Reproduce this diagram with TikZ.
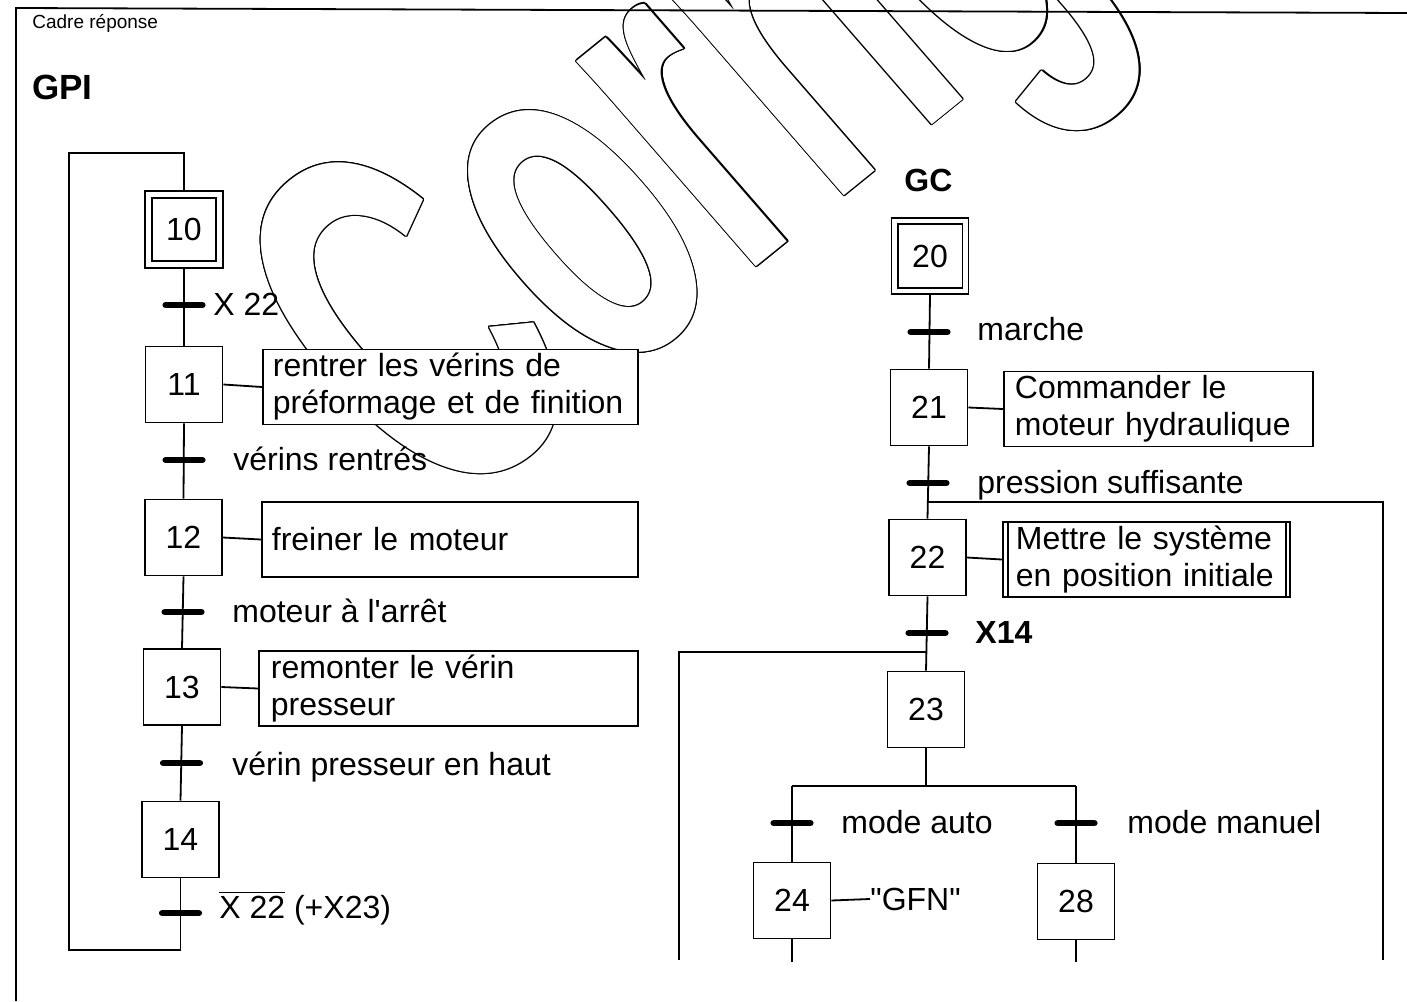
\documentclass[tikz,border=0pt]{standalone}
\usepackage{fontspec}
\setmainfont{Liberation Sans}
\usetikzlibrary{calc}
\begin{document}
\begin{tikzpicture}[x=0.5pt,y=-0.5pt,
  every node/.style={font=\fontsize{16pt}{18.5pt}\selectfont},
  link/.style={line width=0.9pt},
  stepbox/.style={draw, line width=0.9pt, rectangle, minimum width=38.5pt, minimum height=38pt, inner sep=0pt, fill=white},
  actbox/.style={draw, line width=0.9pt, rectangle, fill=white, align=left, inner xsep=5pt, inner ysep=0pt, minimum height=37.5pt, anchor=west},
  tbar/.style={fill=black, rectangle, rounded corners=1.3pt, minimum width=21.5pt, minimum height=2.8pt, inner sep=0pt},
  lbl/.style={anchor=base west, inner sep=0pt},
  wmtext/.style={transform shape, anchor=base west, inner sep=0pt, font=\fontsize{10pt}{12pt}\selectfont\bfseries},
  wmmap/.style={cm={11.27,9.12,-16.93,19.48,(0,0)}},
]
\useasboundingbox (0,0) rectangle (1407,1001);
\fill[white] (0,0) rectangle (1407,1001);

% watermark (outlined text)
\begin{scope}
\clip (0,0) rectangle (1407,1001);
\foreach \a in {0,30,...,330}{
  \begin{scope}[shift={(436,526)}, shift={(\a:1.25)}, wmmap]
    \node[wmtext, text=black] (wm\a) at (0,0) {Corrigé};
  \end{scope}
}
\begin{scope}[shift={(436,526)}, wmmap]
  \node[wmtext, text=white] (wm) at (0,0) {Corrigé};
\end{scope}
\end{scope}

% frame
\draw[link] (16,1001) -- (16,8) -- (1407,13);
\node[lbl, font=\fontsize{9.5pt}{11pt}\selectfont] (cadre) at (32,28) {Cadre réponse};
\node[lbl, font=\fontsize{17.5pt}{20pt}\selectfont\bfseries] (gpi) at (32,99) {GPI};
\node[lbl, font=\fontsize{16pt}{19pt}\selectfont\bfseries] (gc) at (904,191) {GC};

% ---------- GPI ----------
\node[stepbox, minimum width=39pt, minimum height=38.5pt] (s10) at (184,229.5) {10};
\draw[link] ($(s10.north west)+(8,8)$) rectangle ($(s10.south east)+(-8,-8)$);
\node[stepbox] (s11) at (184,384.5) {11};
\node[stepbox] (s12) at (183.5,537.5) {12};
\node[stepbox] (s13) at (182,687) {13};
\node[stepbox] (s14) at (180.5,839.5) {14};

\node[actbox, text width=177.5pt] (a11) at (262,387) {rentrer les vérins de\\préformage et de finition};
\node[actbox, text width=178pt] (a12) at (261,539.5) {freiner le moteur};
\node[actbox, text width=177.5pt, inner xsep=6pt] (a13) at (258,688.5) {remonter le vérin\\presseur};

\draw[link] (s10.south) -- (s11.north);
\draw[link] (s11.south) -- (s12.north);
\draw[link] (s12.south) -- (s13.north);
\draw[link] (s13.south) -- (s14.north);
\coordinate (lp2) at (69,950);
\coordinate (lp4) at (184,153);
\draw[link] (s14.south) |- (lp2) |- (lp4) -- (s10.north);
\draw[link] (s11.east) -- (a11.west);
\draw[link] (s12.east) -- (a12.west);
\draw[link] (s13.east) -- (a13.west);

\node[tbar] (t1) at (184,305) {};
\node[tbar] (t2) at (184,460) {};
\node[tbar] (t3) at (183,612) {};
\node[tbar] (t4) at (181.5,763) {};
\node[tbar] (t5) at (180.5,913) {};

\node[lbl] (l1) at (213,315) {X 22};
\node[lbl] (l2) at (233,470) {vérins rentrés};
\node[lbl] (l3) at (232,622) {moteur à l\textquotesingle arrêt};
\node[lbl] (l4) at (232,775) {vérin presseur en haut};
\node[lbl] (l5) at (219,918) {$\overline{\mbox{X 22}}$ (+X23)};

% ---------- GC ----------
\node[stepbox] (s20) at (930,256) {20};
\draw[link] ($(s20.north west)+(7,7)$) rectangle ($(s20.south east)+(-7,-7)$);
\node[stepbox] (s21) at (929,407.5) {21};
\node[stepbox] (s22) at (927.5,557.5) {22};
\node[stepbox] (s23) at (926,709.5) {23};
\node[stepbox] (s24) at (792,900.5) {24};
\node[stepbox] (s28) at (1076,901.5) {28};

\node[actbox, text width=143.5pt, inner xsep=5.5pt] (a21) at (1003,409) {Commander le\\moteur hydraulique};
\node[actbox, text width=130.5pt, inner xsep=6.5pt] (a22) at (1002,559.5) {Mettre le système\\en position initiale};
\draw[link] ($(a22.north west)+(6,0)$) -- ($(a22.south west)+(6,0)$);
\draw[link] ($(a22.north east)+(-5,0)$) -- ($(a22.south east)+(-5,0)$);

\draw[link] (s20.south) -- (s21.north);
\draw[link] (s21.south) -- (s22.north);
\draw[link] (s22.south) -- (s23.north);
\draw[link] (s21.east) -- (a21.west);
\draw[link] (s22.east) -- (a22.west);

\coordinate (rb) at (928,502);
\coordinate (re) at (1383,960);
\draw[link] (rb) -| (re);
\coordinate (lb) at (926,652);
\coordinate (le) at (679,960);
\draw[link] (lb) -| (le);

\coordinate (dl) at (792,786);
\coordinate (dr) at (1076,786);
\draw[link] (s23.south) -- (s23.south |- dl);
\draw[link] (dl) -- (dr);
\draw[link] (dl) -- (s24.north);
\draw[link] (dr) -- (s28.north);
\coordinate (e24) at (792,962);
\coordinate (e28) at (1076,962);
\draw[link] (s24.south) -- (e24);
\draw[link] (s28.south) -- (e28);

\node[tbar] (t6) at (929,332) {};
\node[tbar] (t7) at (928,483) {};
\node[tbar] (t8) at (927,633) {};
\node[tbar] (t9) at (792,823) {};
\node[tbar] (t10) at (1076,823) {};

\node[lbl] (l6) at (977,340) {marche};
\node[lbl] (l7) at (977,493) {pression suffisante};
\node[lbl] (l8) at (975,643) {\textbf{X14}};
\node[lbl] (l9) at (841,833) {mode auto};
\node[lbl] (l10) at (1127,833) {mode manuel};
\node[lbl] (gfn) at (870,910) {\textquotedbl GFN\textquotedbl};
\draw[link] (s24.east) -- (gfn.west);
\end{tikzpicture}
\end{document}
